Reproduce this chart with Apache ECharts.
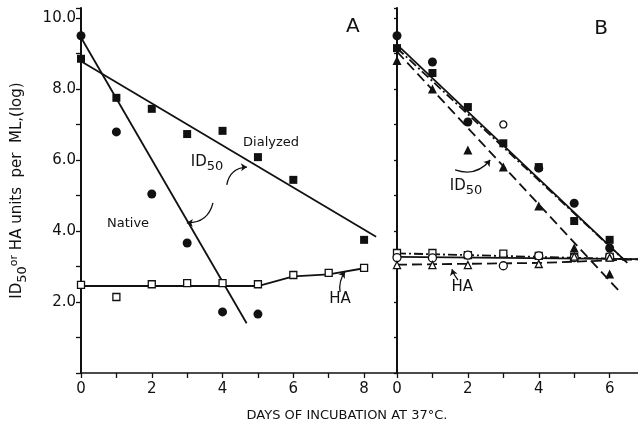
<!DOCTYPE html>
<html>
<head>
<meta charset="utf-8">
<script src="https://cdn.jsdelivr.net/npm/echarts@6/dist/echarts.min.js"></script>
<style>
  html, body { margin: 0; padding: 0; background: #fff; }
  #main { width: 638px; height: 425px; }
</style>
</head>
<body>
<div id="main"></div>
<script>
// panel A data (days, log units)
var nativeA = [[0, 9.5], [1, 6.79], [2, 5.04], [3, 3.66], [4, 1.72], [5, 1.66]];
var dialyzedA = [[0, 8.85], [1, 7.75], [2, 7.44], [3, 6.73], [4, 6.82], [5, 6.08], [6, 5.44], [8, 3.75]];
var haA = [[0, 2.48], [1, 2.14], [2, 2.5], [3, 2.53], [4, 2.53], [5, 2.5], [6, 2.76], [7, 2.82], [8, 2.96]];
var nativeFitA = [[0, 9.45], [4.68, 1.4]];
var dialyzedFitA = [[0, 8.78], [8.34, 3.84]];
var haFitA = [[0, 2.45], [5, 2.45], [6, 2.72], [7, 2.78], [8, 2.95]];

// panel B data
var circB = [[0, 9.5], [1, 8.76], [2, 7.07], [4, 5.77], [5, 4.78], [6, 3.52]];
var sqB = [[0, 9.15], [1, 8.45], [2, 7.49], [3, 6.47], [4, 5.8], [5, 4.28], [6, 3.75]];
var triB = [[0, 8.8], [1, 8.0], [2, 6.28], [3, 5.8], [4, 4.7], [5, 3.52], [6, 2.79]];
var openCircIdB = [[3, 7.0]];
var solidFitB = [[0, 9.25], [6.45, 3.15]];
var dashDotFitB = [[0, 9.15], [6.5, 3.1]];
var dashFitB = [[0, 9.05], [6.24, 2.34]];
var haSqB = [[0, 3.38], [1, 3.38], [2, 3.32], [3, 3.36], [4, 3.3], [5, 3.27], [6, 3.27]];
var haCircB = [[0, 3.25], [1, 3.24], [2, 3.32], [3, 3.02], [4, 3.3], [5, 3.25], [6, 3.27]];
var haTriB = [[0, 3.04], [1, 3.04], [2, 3.04], [4, 3.07], [5, 3.28], [6, 3.25]];
var haSqFitB = [[0, 3.37], [6.8, 3.2]];
var haCircFitB = [[0, 3.27], [6.8, 3.21]];
var haTriFitB = [[0, 3.05], [4, 3.1], [6.8, 3.2]];

// labels
var xName = 'DAYS OF INCUBATION AT 37°C.';
var notesA = [
  { at: [7.68, 9.75], text: '{big|A}' },
  { at: [5.37, 6.48], text: '{t|Dialyzed}' },
  { at: [1.33, 4.2], text: '{t|Native}' },
  { at: [3.56, 5.95], text: '{id|ID}{sub|50}' },
  { at: [7.32, 2.08], text: '{id|HA}' }
];
var notesB = [
  { at: [5.76, 9.7], text: '{big|B}' },
  { at: [1.95, 5.27], text: '{id|ID}{sub|50}' },
  { at: [1.84, 2.42], text: '{id|HA}' }
];
// [from, to, curveness]
var arrowsA = [
  [[3.73, 4.79], [2.99, 4.23], 0.4],
  [[4.12, 5.3], [4.69, 5.8], 0.4],
  [[7.32, 2.28], [7.46, 2.85], 0.2]
];
var arrowsB = [
  [[1.64, 5.72], [2.63, 6.0], -0.35],
  [[1.72, 2.62], [1.55, 2.92], 0.1]
];

var ink = '#111';
var fontF = 'DejaVu Sans';
var richT = {
  big: { fontSize: 20, fontFamily: fontF, color: ink },
  t: { fontSize: 13, fontFamily: fontF, color: ink },
  id: { fontSize: 15, fontFamily: fontF, color: ink },
  sub: { fontSize: 13, fontFamily: fontF, color: ink, padding: [10, 0, 0, 0] }
};

var myChart = echarts.init(document.getElementById('main'));

function xAx(idx, max) {
  return {
    type: 'value', gridIndex: idx, min: 0, max: max, interval: 1,
    axisLine: { show: true, lineStyle: { color: ink, width: 1.5 } },
    axisTick: { show: true, length: 5, inside: false, lineStyle: { color: ink, width: 1.3 } },
    splitLine: { show: false },
    axisLabel: {
      color: ink, fontSize: 15, fontFamily: fontF, margin: 9, showMaxLabel: false,
      formatter: function (v) { return v % 2 === 0 ? String(v) : ''; }
    }
  };
}
function yAx(idx, labels) {
  return {
    type: 'value', gridIndex: idx, min: 0, max: 10.28, interval: 1,
    axisLine: { show: true, lineStyle: { color: ink, width: 2 } },
    axisTick: { show: true, length: labels ? 5 : 3, lineStyle: { color: ink, width: 1.3 } },
    splitLine: { show: false },
    axisLabel: {
      show: labels, color: ink, fontSize: 15, fontFamily: fontF, margin: 5,
      formatter: function (v) { return (v > 0 && v % 2 === 0) ? v.toFixed(1) : ''; }
    },
    name: labels ? '{id|ID}{sub|50}{or|or} HA units  per  ML,(log)' : '',
    nameLocation: 'middle', nameGap: 52, nameRotate: 90,
    nameTextStyle: {
      color: ink, fontSize: 15, fontFamily: fontF,
      rich: {
        id: { fontSize: 15, fontFamily: fontF, color: ink },
        sub: { fontSize: 13, fontFamily: fontF, color: ink, padding: [10, 0, 0, 0] },
        or: { fontSize: 11, fontFamily: fontF, color: ink, padding: [0, 0, 6, 0] }
      }
    }
  };
}

function pts(name, data, gi, symbol, size, filled) {
  return {
    name: name, type: 'scatter', xAxisIndex: gi, yAxisIndex: gi, data: data,
    symbol: symbol, symbolSize: size, z: 5,
    itemStyle: filled ? { color: ink, opacity: 1 } : { color: '#fff', borderColor: ink, borderWidth: 1.3, opacity: 1 }
  };
}
function fit(data, gi, type, smooth) {
  return {
    type: 'line', xAxisIndex: gi, yAxisIndex: gi, data: data, showSymbol: false,
    symbol: 'none', smooth: !!smooth, z: 3,
    lineStyle: { color: ink, width: 1.8, type: type || 'solid' }
  };
}
function notes(list, gi) {
  return {
    type: 'scatter', xAxisIndex: gi, yAxisIndex: gi, symbolSize: 0, z: 6,
    itemStyle: { opacity: 1, color: ink },
    data: list.map(function (n) { return { value: n.at, label: { formatter: n.text } }; }),
    label: { show: true, position: 'inside', rich: richT, color: ink }
  };
}
function arrows(list, gi) {
  return {
    type: 'lines', coordinateSystem: 'cartesian2d', xAxisIndex: gi, yAxisIndex: gi,
    symbol: ['none', 'arrow'], symbolSize: 6, z: 6,
    lineStyle: { color: ink, width: 1.3, opacity: 1 },
    data: list.map(function (a) {
      return { coords: [a[0], a[1]], lineStyle: { curveness: a[2] } };
    })
  };
}

var dashDot = [9, 3, 2, 3];
var dashed = [10, 5];

var option = {
  backgroundColor: '#fff',
  animation: false,
  title: {
    text: xName, left: 342, top: 404, textAlign: 'center',
    textStyle: { color: ink, fontSize: 13, fontWeight: 'normal', fontFamily: fontF }
  },
  grid: [
    { left: 81, top: 8, width: 316, bottom: 52 },
    { left: 397, top: 8, right: 0, bottom: 52 }
  ],
  xAxis: [xAx(0, 8.93), xAx(1, 6.8)],
  yAxis: [yAx(0, true), yAx(1, false)],
  series: [
    fit(nativeFitA, 0), fit(dialyzedFitA, 0), fit(haFitA, 0),
    pts('Native', nativeA, 0, 'circle', 9, true),
    pts('Dialyzed', dialyzedA, 0, 'rect', 8, true),
    pts('HA', haA, 0, 'rect', 7, false),
    fit(solidFitB, 1), fit(dashDotFitB, 1, dashDot), fit(dashFitB, 1, dashed),
    fit(haSqFitB, 1, dashDot), fit(haCircFitB, 1), fit(haTriFitB, 1, dashed),
    pts('circ', circB, 1, 'circle', 9, true),
    pts('sq', sqB, 1, 'rect', 8, true),
    pts('tri', triB, 1, 'triangle', 9, true),
    pts('openId', openCircIdB, 1, 'circle', 7, false),
    pts('haSq', haSqB, 1, 'rect', 7, false),
    pts('haCirc', haCircB, 1, 'circle', 8, false),
    pts('haTri', haTriB, 1, 'triangle', 7, false),
    notes(notesA, 0), notes(notesB, 1),
    arrows(arrowsA, 0), arrows(arrowsB, 1)
  ]
};
myChart.setOption(option);
</script>
</body>
</html>
